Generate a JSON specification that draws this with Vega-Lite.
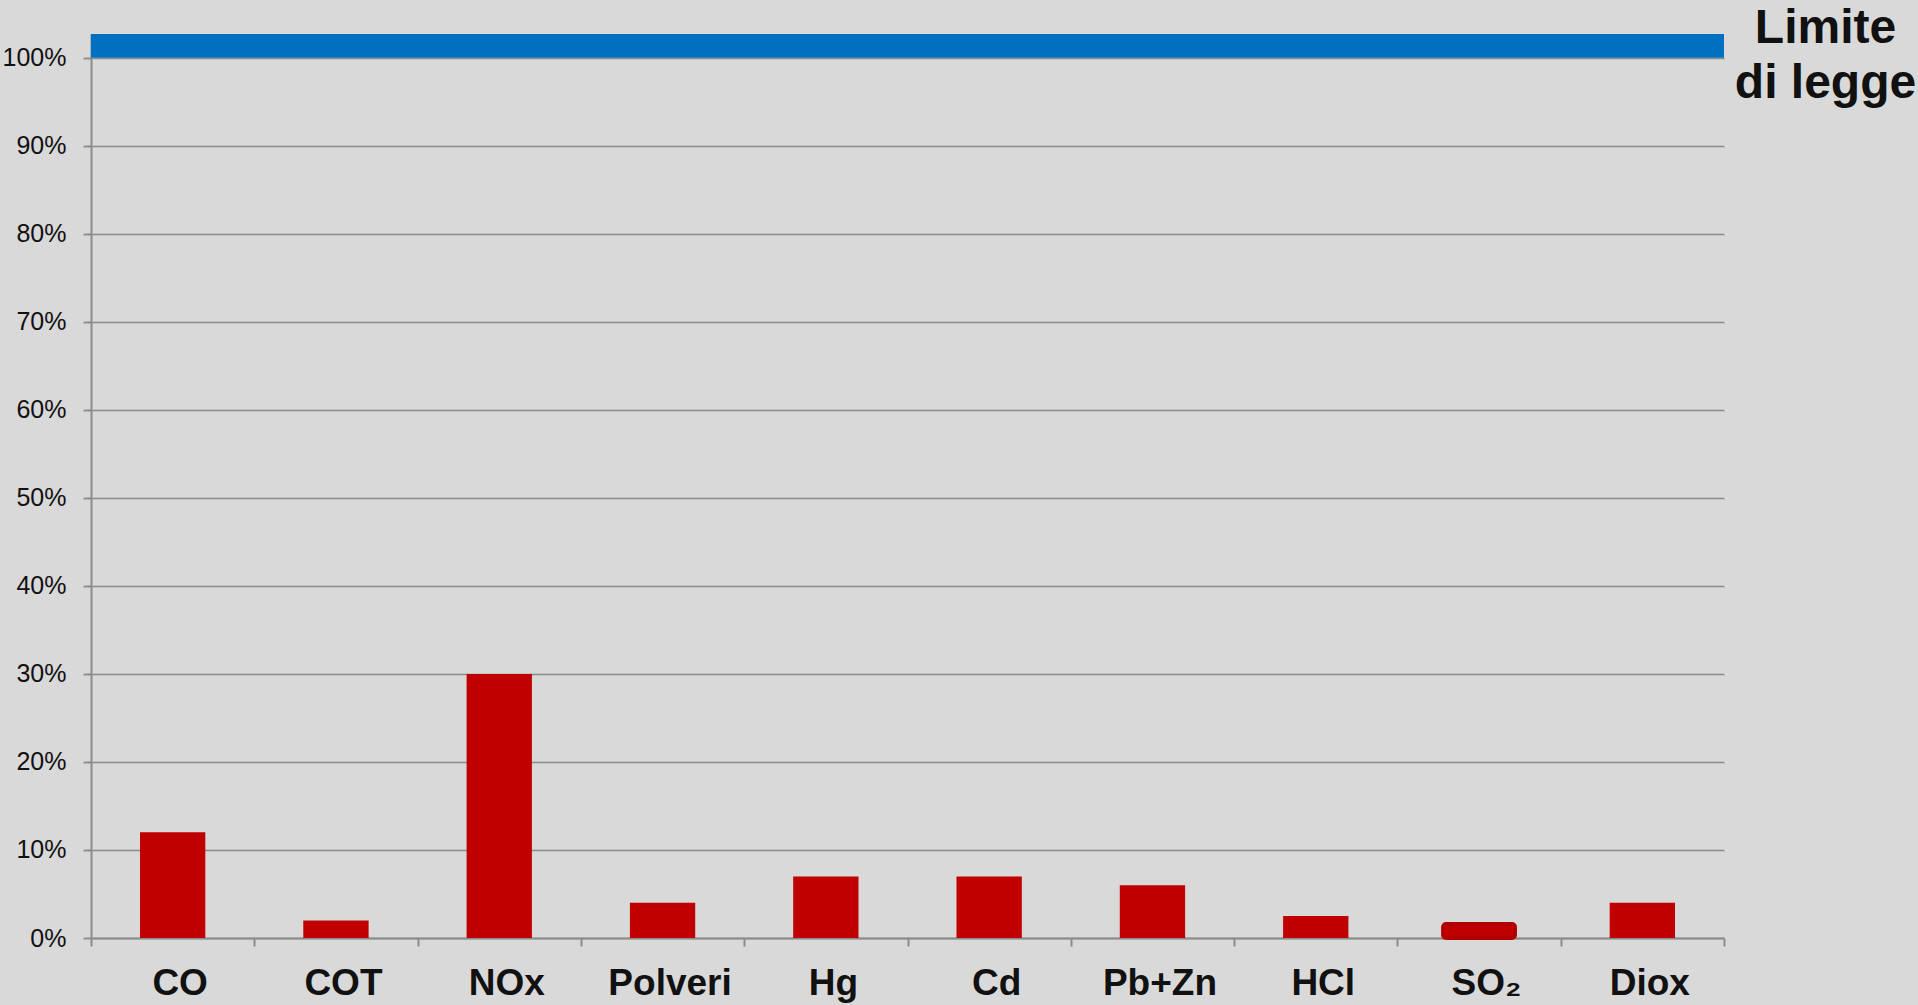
{
  "$schema": "https://vega.github.io/schema/vega-lite/v6.json",
  "width": 1633,
  "height": 904,
  "autosize": "none",
  "padding": {"left": 91, "top": 34, "right": 194, "bottom": 67},
  "background": "#d9d9d9",
  "config": {
    "view": {"stroke": null},
    "font": "Liberation Sans"
  },
  "datasets": {
    "bars": [
      {"cat": "CO", "value": 0.12},
      {"cat": "COT", "value": 0.02},
      {"cat": "NOx", "value": 0.30},
      {"cat": "Polveri", "value": 0.04},
      {"cat": "Hg", "value": 0.07},
      {"cat": "Cd", "value": 0.07},
      {"cat": "Pb+Zn", "value": 0.06},
      {"cat": "HCl", "value": 0.025},
      {"cat": "SO₂", "value": 0.016},
      {"cat": "Diox", "value": 0.04}
    ],
    "limit": [
      {"low": 1.0, "high": 1.027, "label": "Limite di legge"}
    ]
  },
  "resolve": {"axis": {"y": "independent"}},
  "layer": [
    {
      "data": {"name": "bars"},
      "transform": [{"filter": "datum.cat !== 'SO₂'"}],
      "mark": {"type": "bar", "color": "#c00000", "width": {"band": 0.4}},
      "encoding": {
        "x": {
          "field": "cat", "type": "nominal", "sort": null,
          "scale": {
            "domain": ["CO", "COT", "NOx", "Polveri", "Hg", "Cd", "Pb+Zn", "HCl", "SO₂", "Diox"],
            "paddingInner": 0, "paddingOuter": 0
          },
          "axis": {
            "title": null, "labelAngle": 0,
            "labelFont": "Liberation Sans", "labelFontSize": 37, "labelFontWeight": "bold",
            "labelColor": "#111111", "labelPadding": 19, "labelOffset": 7,
            "domainColor": "#8c8c8c", "domainWidth": 2,
            "tickColor": "#8c8c8c", "tickWidth": 2, "tickSize": 8, "tickBand": "extent",
            "grid": false
          }
        },
        "y": {
          "field": "value", "type": "quantitative",
          "scale": {"domain": [0, 1.027], "nice": false, "zero": true},
          "axis": {
            "title": null, "orient": "left",
            "values": [0, 0.1, 0.2, 0.3, 0.4, 0.5, 0.6, 0.7, 0.8, 0.9, 1.0],
            "format": ".0%",
            "labelFont": "Liberation Sans", "labelFontSize": 25, "labelColor": "#111111",
            "labelPadding": 17,
            "domainColor": "#8c8c8c", "domainWidth": 2,
            "tickColor": "#8c8c8c", "tickWidth": 2, "tickSize": 8,
            "grid": true, "gridColor": "#8c8c8c", "gridWidth": 1.5
          }
        }
      }
    },
    {
      "data": {"name": "bars"},
      "transform": [{"filter": "datum.cat === 'SO₂'"}],
      "mark": {"type": "bar", "color": "#c00000", "stroke": "#b00000", "strokeWidth": 4, "cornerRadius": 3, "width": {"band": 0.44}},
      "encoding": {
        "x": {"field": "cat", "type": "nominal", "sort": null},
        "y": {"field": "value", "type": "quantitative", "axis": null}
      }
    },
    {
      "data": {"name": "limit"},
      "mark": {"type": "rect", "color": "#0070c0"},
      "encoding": {
        "y": {
          "field": "low", "type": "quantitative",
          "axis": {
            "title": null, "orient": "right",
            "values": [1.0],
            "labelExpr": "['Limite', 'di legge']",
            "labelFont": "Liberation Sans", "labelFontSize": 48, "labelFontWeight": "bold",
            "labelColor": "#111111", "labelAlign": "center", "labelBaseline": "middle",
            "labelLineHeight": 55, "labelPadding": 101, "labelLimit": 0, "labelOffset": -29,
            "labelOverlap": false, "labelBound": false,
            "domain": false, "ticks": false, "grid": false
          }
        },
        "y2": {"field": "high"}
      }
    }
  ]
}
